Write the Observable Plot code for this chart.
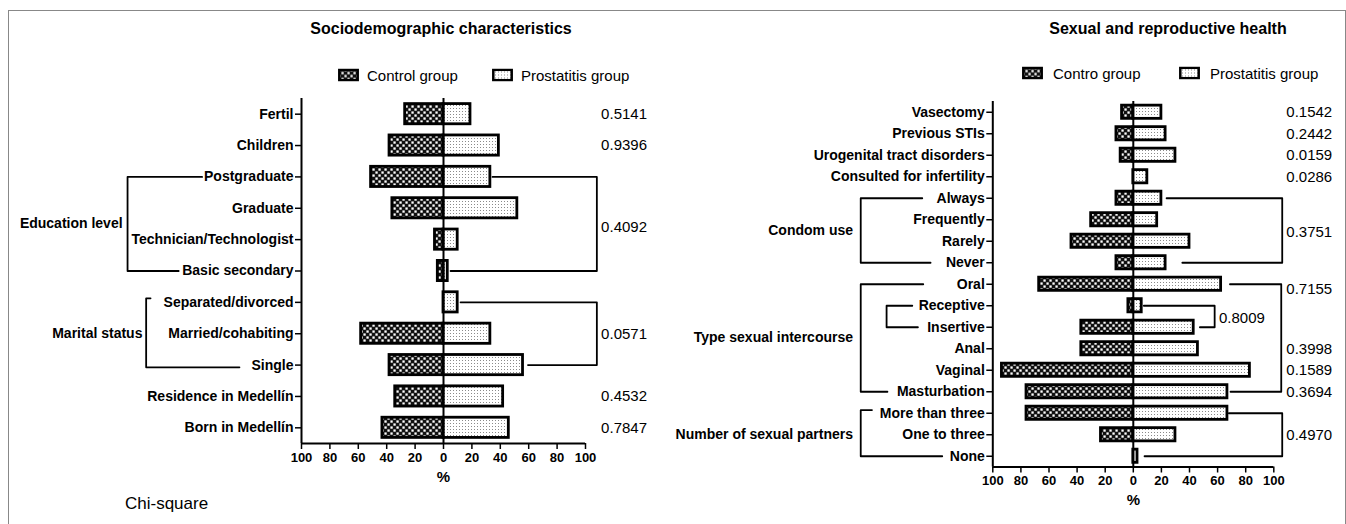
<!DOCTYPE html>
<html>
<head>
<meta charset="utf-8">
<script src="https://cdn.jsdelivr.net/npm/d3@7"></script>
<script src="https://cdn.jsdelivr.net/npm/@observablehq/plot@0.6"></script>
<style>
  body { margin: 0; background: #fff; }
  #wrap { position: relative; width: 1346px; height: 524px; overflow: hidden; font-family: 'Liberation Sans', Arial, sans-serif; color: #000; }
  .abs { position: absolute; line-height: 1; white-space: nowrap; }
  .title { font-weight: bold; font-size: 16px; transform: translate(-50%, -50%); }
  .leg { font-size: 15px; transform: translateY(-50%); }
  .sw { position: absolute; transform: translateY(-50%); }
  #frame { position: absolute; left: 8px; top: 10px; width: 1336px; height: 530px; border-top: 1.5px solid #888; border-left: 1.5px solid #888; border-right: 1.5px solid #888; pointer-events: none; z-index: 5; }
  .plot-holder { position: absolute; top: 0; }
</style>
</head>
<body>
<div id="wrap">
  <svg width="0" height="0" style="position:absolute">
    <defs>
      <pattern id="chk" width="6" height="6" patternUnits="userSpaceOnUse">
        <rect width="6" height="6" fill="#111"/>
        <rect x="0.4" y="0.4" width="2.3" height="2.3" fill="#fff"/>
        <rect x="3.4" y="3.4" width="2.3" height="2.3" fill="#fff"/>
      </pattern>
      <pattern id="dot" width="3" height="3" patternUnits="userSpaceOnUse">
        <rect width="3" height="3" fill="#fff"/>
        <rect width="1" height="1" fill="#8a8a8a"/>
      </pattern>
    </defs>
  </svg>
  <div id="frame"></div>
  <div id="left" class="plot-holder" style="left:0px"></div>
  <div id="right" class="plot-holder" style="left:680px"></div>

  <div class="abs title" style="left:441px; top:29px">Sociodemographic characteristics</div>
  <div class="abs title" style="left:1168px; top:29px">Sexual and reproductive health</div>

  <svg class="sw" style="left:338px; top:75px" width="21" height="13"><rect x="1.3" y="1.3" width="18.4" height="10.4" fill="url(#chk)" stroke="#000" stroke-width="2.5"/></svg>
  <div class="abs leg" style="left:367px; top:75px">Control group</div>
  <svg class="sw" style="left:492px; top:75px" width="21" height="13"><rect x="1.3" y="1.3" width="18.4" height="10.4" fill="url(#dot)" stroke="#000" stroke-width="2.5"/></svg>
  <div class="abs leg" style="left:521px; top:75px">Prostatitis group</div>

  <svg class="sw" style="left:1022px; top:73px" width="21" height="13"><rect x="1.3" y="1.3" width="18.4" height="10.4" fill="url(#chk)" stroke="#000" stroke-width="2.5"/></svg>
  <div class="abs leg" style="left:1053px; top:73px">Contro group</div>
  <svg class="sw" style="left:1179px; top:73px" width="21" height="13"><rect x="1.3" y="1.3" width="18.4" height="10.4" fill="url(#dot)" stroke="#000" stroke-width="2.5"/></svg>
  <div class="abs leg" style="left:1210px; top:73px">Prostatitis group</div>

  <div class="abs" style="left:125px; top:503px; font-size:17px; transform:translateY(-50%)">Chi-square</div>
</div>
<script>
// ---------- Data: Sociodemographic characteristics ----------
const leftLabels = ["Fertil", "Children", "Postgraduate", "Graduate", "Technician/Technologist",
  "Basic secondary", "Separated/divorced", "Married/cohabiting", "Single",
  "Residence in Medellín", "Born in Medellín"];
const leftControl = [27, 38, 51, 36, 6, 4, 0, 58, 38, 34, 43];
const leftProstatitis = [19, 39, 33, 52, 10, 3, 10, 33, 56, 42, 46];
const leftPValues = ["0.5141", "0.9396", "0.4092", "0.0571", "0.4532", "0.7847"];
const leftPRows = [0, 1, 3.6, 7, 9, 10];
const leftGroups = ["Education level", "Marital status"];
const leftGroupSpans = [[2, 5], [6, 8]];

// ---------- Data: Sexual and reproductive health ----------
const rightLabels = ["Vasectomy", "Previous STIs", "Urogenital tract disorders", "Consulted for infertility",
  "Always", "Frequently", "Rarely", "Never", "Oral", "Receptive", "Insertive", "Anal", "Vaginal",
  "Masturbation", "More than three", "One to three", "None"];
const rightControl = [8, 12, 9, 0, 12, 30, 44, 12, 67, 3.5, 37, 37, 93.5, 76, 76, 23, 0];
const rightProstatitis = [20, 23, 30, 10, 20, 17, 40, 23, 62.5, 6, 43, 46, 83, 67, 67, 30, 3];
const rightPValues = ["0.1542", "0.2442", "0.0159", "0.0286", "0.3751", "0.7155", "0.8009",
  "0.3998", "0.1589", "0.3694", "0.4970"];
const rightPRows = [0, 1, 2, 3, 5.6, 8.25, 9.6, 11, 12, 13, 15];
const rightGroups = ["Condom use", "Type sexual intercourse", "Number of sexual partners"];
const rightGroupSpans = [[4, 7], [8, 13], [14, 16]];

const FONT = "'Liberation Sans', Arial, sans-serif";

// bracket polyline: top arm start, vertical, bottom arm end
function bracket(id, yTop, yBot, xTop, xV, xBot) {
  return [
    {b: id, x: xTop, y: yTop}, {b: id, x: xV, y: yTop},
    {b: id, x: xV, y: yBot}, {b: id, x: xBot, y: yBot}
  ];
}

function panel(opts) {
  const {labels, control, prost, width, ml, mr, mt, mb, half, brackets, groupText, pText} = opts;
  const n = labels.length;
  const rows = labels.map((l, i) => ({i, c: control[i], p: prost[i]}));
  return Plot.plot({
    width, height: 524,
    marginLeft: ml, marginRight: mr, marginTop: mt, marginBottom: mb,
    style: {fontFamily: FONT, fontSize: "14px", background: "transparent", overflow: "visible", color: "#000"},
    x: {domain: [-100, 100]},
    y: {domain: [-0.5, n - 0.5], reverse: true},
    marks: [
      Plot.rect(rows.filter(d => d.c > 0), {x1: d => -d.c, x2: 0, y1: d => d.i - half, y2: d => d.i + half,
        fill: "url(#chk)", stroke: "#000", strokeWidth: 2.8}),
      Plot.rect(rows.filter(d => d.p > 0), {x1: 0, x2: d => d.p, y1: d => d.i - half, y2: d => d.i + half,
        fill: "url(#dot)", stroke: "#000", strokeWidth: 2.8}),
      Plot.ruleX([0], {y1: -0.5, y2: n - 0.5, strokeWidth: 2}),
      Plot.ruleX([-100], {y1: -0.5, y2: n - 0.5, strokeWidth: 2}),
      Plot.ruleY([n - 0.5], {x1: -100, x2: 100, strokeWidth: 2}),
      Plot.axisY({ticks: d3.range(n), tickFormat: i => labels[i], tickSize: 6, tickPadding: 2,
        fontSize: 14, fontWeight: "bold", strokeWidth: 1.5, label: null}),
      Plot.axisX({ticks: d3.range(-100, 101, 20), tickFormat: d => Math.abs(d), tickSize: 6, tickPadding: 3,
        fontSize: 13, fontWeight: "bold", strokeWidth: 1.5, label: null}),
      Plot.text(["%"], {x: 0, frameAnchor: "bottom", text: d => d, dy: opts.pctDy, fontSize: 15, fontWeight: "bold"}),
      Plot.line(brackets, {x: "x", y: "y", z: "b", stroke: "#000", strokeWidth: 1.8}),
      Plot.text(groupText, {x: "x", y: "y", text: "t", textAnchor: "end", fontSize: 14, fontWeight: "bold"}),
      Plot.text(pText, {x: "x", y: "y", text: "t", textAnchor: "start", fontSize: 15})
    ]
  });
}

// ---------- Left panel ----------
const lb = [
  ...bracket("eduL", leftGroupSpans[0][0], leftGroupSpans[0][1], -170, -222.5, -186.5),
  ...bracket("marL", leftGroupSpans[1][0] - 0.13, leftGroupSpans[1][1] + 0.07, -206.3, -209.4, -143.7),
  ...bracket("eduR", leftGroupSpans[0][0], leftGroupSpans[0][1], 34.5, 108, 5),
  ...bracket("marR", leftGroupSpans[1][0], leftGroupSpans[1][1], 12, 108, 59.5)
];
const lg = [
  {t: leftGroups[0], x: -226, y: 3.5},
  {t: leftGroups[1], x: -212, y: 7}
];
const lp = leftPValues.map((t, k) => ({t, x: 111, y: leftPRows[k]}));

document.getElementById("left").appendChild(panel({
  labels: leftLabels, control: leftControl, prost: leftProstatitis,
  width: 680, ml: 301, mr: 95, mt: 98, mb: 81, half: 0.322,
  brackets: lb, groupText: lg, pText: lp, pctDy: 38
}));

// ---------- Right panel ----------
const rb = [
  ...bracket("conL", rightGroupSpans[0][0], rightGroupSpans[0][1], -150.2, -194, -144.3),
  ...bracket("typL", rightGroupSpans[1][0], rightGroupSpans[1][1], -149.5, -194, -175),
  ...bracket("insL", 9, 10, -157.3, -175.6, -153.3),
  ...bracket("numL", rightGroupSpans[2][0] - 0.15, rightGroupSpans[2][1], -186, -194, -136),
  ...bracket("conR", rightGroupSpans[0][0], rightGroupSpans[0][1], 23.7, 106, 34.9),
  ...bracket("typR", rightGroupSpans[1][0], rightGroupSpans[1][1], 68.8, 105.3, 69.2),
  ...bracket("insR", 9, 10, 7.5, 57.9, 47.4),
  ...bracket("numR", rightGroupSpans[2][0], rightGroupSpans[2][1], 68, 106, 8)
];
const rg = [
  {t: rightGroups[0], x: -199.5, y: 5.5},
  {t: rightGroups[1], x: -199.5, y: 10.5},
  {t: rightGroups[2], x: -199.5, y: 15}
];
const rp = rightPValues.map((t, k) => ({t, x: t === "0.8009" ? 61 : 108.9, y: rightPRows[k]}));

document.getElementById("right").appendChild(panel({
  labels: rightLabels, control: rightControl, prost: rightProstatitis,
  width: 666, ml: 312.3, mr: 72.7, mt: 101, mb: 57.5, half: 0.307,
  brackets: rb, groupText: rg, pText: rp, pctDy: 38
}));
</script>
</body>
</html>
